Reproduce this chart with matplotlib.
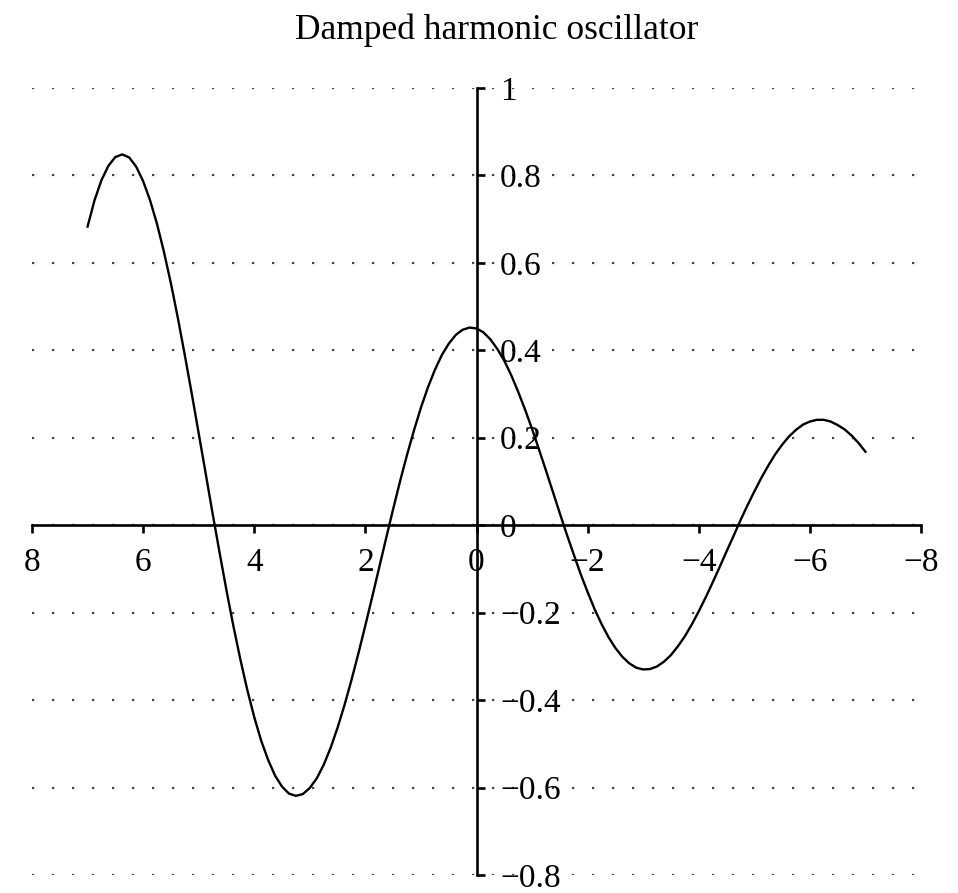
import numpy as np
import matplotlib.pyplot as plt

plt.rcParams['font.family'] = ['Liberation Serif', 'DejaVu Serif']

# values (x from 7 down to -7)
x_vals = [7.0, 6.875, 6.75, 6.625, 6.5, 6.375, 6.25, 6.125, 6.0, 5.875, 5.75,
          5.625, 5.5, 5.375, 5.25, 5.125, 5.0, 4.875, 4.75, 4.625, 4.5, 4.375,
          4.25, 4.125, 4.0, 3.875, 3.75, 3.625, 3.5, 3.375, 3.25, 3.125, 3.0,
          2.875, 2.75, 2.625, 2.5, 2.375, 2.25, 2.125, 2.0, 1.875, 1.75, 1.625,
          1.5, 1.375, 1.25, 1.125, 1.0, 0.875, 0.75, 0.625, 0.5, 0.375, 0.25,
          0.125, 0.0, -0.125, -0.25, -0.375, -0.5, -0.625, -0.75, -0.875, -1.0,
          -1.125, -1.25, -1.375, -1.5, -1.625, -1.75, -1.875, -2.0, -2.125,
          -2.25, -2.375, -2.5, -2.625, -2.75, -2.875, -3.0, -3.125, -3.25,
          -3.375, -3.5, -3.625, -3.75, -3.875, -4.0, -4.125, -4.25, -4.375,
          -4.5, -4.625, -4.75, -4.875, -5.0, -5.125, -5.25, -5.375, -5.5,
          -5.625, -5.75, -5.875, -6.0, -6.125, -6.25, -6.375, -6.5, -6.625,
          -6.75, -6.875, -7.0]
y_vals = [0.683, 0.743, 0.789, 0.822, 0.842, 0.848, 0.841, 0.820, 0.787, 0.743,
          0.689, 0.625, 0.553, 0.474, 0.389, 0.301, 0.210, 0.119, 0.027, -0.062,
          -0.149, -0.231, -0.307, -0.377, -0.439, -0.493, -0.537, -0.573, -0.598,
          -0.614, -0.619, -0.615, -0.601, -0.579, -0.548, -0.509, -0.463, -0.411,
          -0.354, -0.293, -0.229, -0.163, -0.096, -0.029, 0.037, 0.101, 0.161,
          0.217, 0.269, 0.315, 0.355, 0.389, 0.415, 0.435, 0.447, 0.452, 0.450,
          0.441, 0.425, 0.403, 0.376, 0.343, 0.305, 0.264, 0.220, 0.173, 0.125,
          0.076, 0.027, -0.021, -0.067, -0.112, -0.153, -0.192, -0.226, -0.256,
          -0.281, -0.301, -0.316, -0.326, -0.330, -0.329, -0.323, -0.312, -0.297,
          -0.277, -0.254, -0.227, -0.197, -0.165, -0.131, -0.096, -0.060, -0.025,
          0.011, 0.045, 0.077, 0.108, 0.136, 0.162, 0.184, 0.203, 0.218, 0.230,
          0.237, 0.241, 0.241, 0.237, 0.229, 0.219, 0.205, 0.188, 0.168]

x_ticks = [8, 6, 4, 2, 0, -2, -4, -6, -8]
y_ticks = [-0.8, -0.6, -0.4, -0.2, 0, 0.2, 0.4, 0.6, 0.8, 1]

fig = plt.figure(figsize=(9.58, 8.93), dpi=100)
ax = fig.add_axes([0.0334, 0.0202, 0.928, 0.8813])

ax.plot(x_vals, y_vals, color='black', lw=1.7, zorder=3)

ax.set_xlim(8, -8)
ax.set_ylim(-0.8, 1)
ax.set_xticks(x_ticks)
ax.set_yticks(y_ticks)
ax.set_yticklabels([('%g' % v).replace('-', '\u2212') for v in y_ticks])

ax.spines['top'].set_visible(False)
ax.spines['left'].set_visible(False)
ax.spines['right'].set_position(('data', 0))
ax.spines['bottom'].set_position(('data', 0))
for s in ('right', 'bottom'):
    ax.spines[s].set_linewidth(1.9)
ax.yaxis.set_ticks_position('right')
ax.xaxis.set_ticks_position('bottom')
ax.tick_params(axis='both', direction='out', length=6, width=1.9,
               labelsize=24)
ax.tick_params(axis='x', pad=10)
ax.tick_params(axis='y', pad=11)

ax.yaxis.grid(True, color='#444444', linestyle=(0, (1, 8)), lw=1.6)
ax.set_axisbelow(True)

fig.text(0.518, 0.985, 'Damped harmonic oscillator', fontsize=25.5,
         ha='center', va='top')

fig.savefig('out.png', dpi=100)
